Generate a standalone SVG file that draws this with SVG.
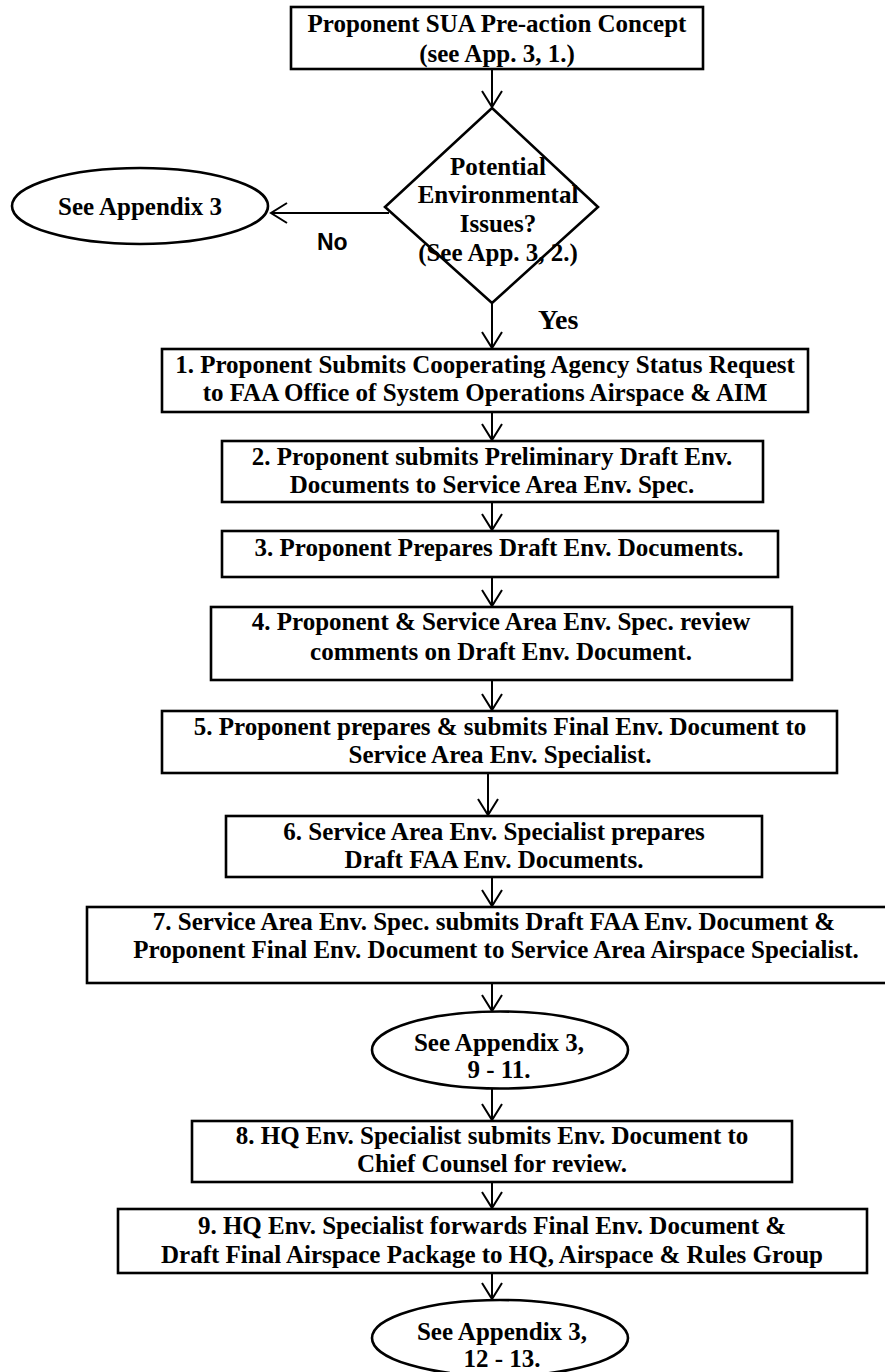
<svg xmlns="http://www.w3.org/2000/svg" width="885" height="1372" viewBox="0 0 885 1372">
<style>
.t{font-family:"Liberation Serif","Times New Roman",serif;font-weight:bold;font-size:25px;text-anchor:middle;fill:#000}
.box{fill:#fff;stroke:#000;stroke-width:2.6}
.c{fill:none;stroke:#000;stroke-width:2}
</style>
<defs>
<marker id="arr" markerUnits="userSpaceOnUse" markerWidth="24" markerHeight="24" viewBox="-20 -12 24 24" refX="0" refY="0" orient="auto">
<path d="M-16,-10 L0,0 L-16,10" fill="none" stroke="#000" stroke-width="2"/>
</marker>
</defs>
<rect width="885" height="1372" fill="#fff"/>
<g id="connectors">
<line class="c" x1="492" y1="69" x2="492" y2="107" marker-end="url(#arr)"/>
<line class="c" x1="389" y1="213" x2="271" y2="213" marker-end="url(#arr)"/>
<line class="c" x1="492" y1="303" x2="492" y2="348" marker-end="url(#arr)"/>
<line class="c" x1="492" y1="412" x2="492" y2="440" marker-end="url(#arr)"/>
<line class="c" x1="492" y1="502" x2="492" y2="530" marker-end="url(#arr)"/>
<line class="c" x1="492" y1="577" x2="492" y2="606" marker-end="url(#arr)"/>
<line class="c" x1="492" y1="680" x2="492" y2="710" marker-end="url(#arr)"/>
<line class="c" x1="488" y1="773" x2="488" y2="815" marker-end="url(#arr)"/>
<line class="c" x1="492" y1="877" x2="492" y2="906" marker-end="url(#arr)"/>
<line class="c" x1="492" y1="983" x2="492" y2="1011" marker-end="url(#arr)"/>
<line class="c" x1="492" y1="1089" x2="492" y2="1120" marker-end="url(#arr)"/>
<line class="c" x1="492" y1="1182" x2="492" y2="1208" marker-end="url(#arr)"/>
<line class="c" x1="492" y1="1273" x2="492" y2="1299" marker-end="url(#arr)"/>
<text x="317" y="250" style="font-family:'Liberation Sans',Arial,sans-serif;font-weight:bold;font-size:23px;fill:#000">No</text>
<text x="538" y="329" style="font-family:'Liberation Serif','Times New Roman',serif;font-weight:bold;font-size:28px;fill:#000">Yes</text>
</g>
<g id="start">
<rect class="box" x="291" y="7" width="412" height="62"/>
<text class="t" x="497" y="32">Proponent SUA Pre-action Concept</text>
<text class="t" x="497" y="62">(see App. 3, 1.)</text>
</g>
<g id="decision">
<polygon class="box" points="492,108 598,207 492,303 385,207"/>
<text class="t" x="498" y="175">Potential</text>
<text class="t" x="498" y="203">Environmental</text>
<text class="t" x="498" y="232">Issues?</text>
<text class="t" x="498" y="261">(See App. 3, 2.)</text>
</g>
<g id="appendix3">
<ellipse class="box" cx="140" cy="206" rx="128" ry="38"/>
<text class="t" x="140" y="215">See Appendix 3</text>
</g>
<g id="step1">
<rect class="box" x="162" y="349" width="646" height="63"/>
<text class="t" x="485" y="373">1. Proponent Submits Cooperating Agency Status Request</text>
<text class="t" x="485" y="401">to FAA Office of System Operations Airspace &amp; AIM</text>
</g>
<g id="step2">
<rect class="box" x="222" y="441" width="541" height="61"/>
<text class="t" x="492" y="465">2. Proponent submits Preliminary Draft Env.</text>
<text class="t" x="492" y="493">Documents to Service Area Env. Spec.</text>
</g>
<g id="step3">
<rect class="box" x="222" y="531" width="556" height="46"/>
<text class="t" x="499" y="556">3. Proponent Prepares Draft Env. Documents.</text>
</g>
<g id="step4">
<rect class="box" x="211" y="607" width="581" height="73"/>
<text class="t" x="501" y="630">4. Proponent &amp; Service Area Env. Spec. review</text>
<text class="t" x="501" y="660">comments on Draft Env. Document.</text>
</g>
<g id="step5">
<rect class="box" x="162" y="711" width="675" height="62"/>
<text class="t" x="500" y="735">5. Proponent prepares &amp; submits Final Env. Document to</text>
<text class="t" x="500" y="763">Service Area Env. Specialist.</text>
</g>
<g id="step6">
<rect class="box" x="226" y="816" width="536" height="61"/>
<text class="t" x="494" y="840">6. Service Area Env. Specialist prepares</text>
<text class="t" x="494" y="868">Draft FAA Env. Documents.</text>
</g>
<g id="step7">
<rect class="box" x="87" y="907" width="800" height="76"/>
<text class="t" x="494" y="930">7. Service Area Env. Spec. submits Draft FAA Env. Document &amp;</text>
<text class="t" x="496" y="958">Proponent Final Env. Document to Service Area Airspace Specialist.</text>
</g>
<g id="appendix3-9-11">
<ellipse class="box" cx="500" cy="1050" rx="128" ry="38.5"/>
<text class="t" x="499" y="1051">See Appendix 3,</text>
<text class="t" x="499" y="1078">9 - 11.</text>
</g>
<g id="step8">
<rect class="box" x="192" y="1121" width="600" height="61"/>
<text class="t" x="492" y="1144">8. HQ Env. Specialist submits Env. Document to</text>
<text class="t" x="492" y="1172">Chief Counsel for review.</text>
</g>
<g id="step9">
<rect class="box" x="118" y="1209" width="749" height="64"/>
<text class="t" x="492" y="1234">9. HQ Env. Specialist forwards Final Env. Document &amp;</text>
<text class="t" x="492" y="1263">Draft Final Airspace Package to HQ, Airspace &amp; Rules Group</text>
</g>
<g id="appendix3-12-13">
<ellipse class="box" cx="500" cy="1338" rx="128" ry="38"/>
<rect x="450" y="1350" width="97" height="22" fill="#fff"/>
<text class="t" x="502" y="1340">See Appendix 3,</text>
<text class="t" x="502" y="1367">12 - 13.</text>
</g>
</svg>
